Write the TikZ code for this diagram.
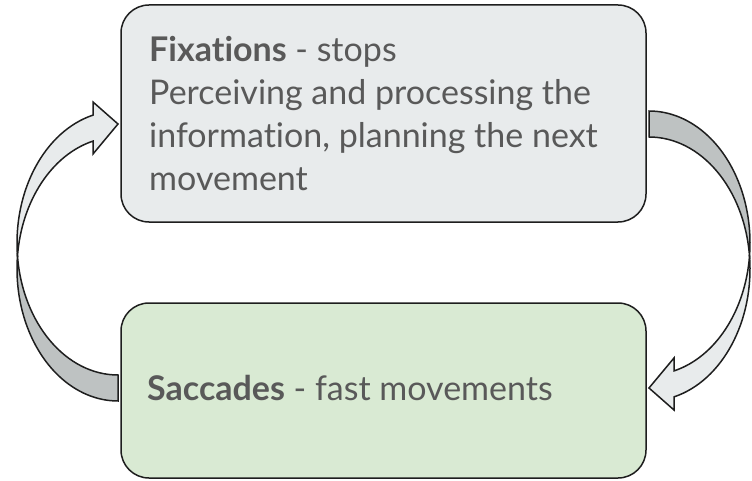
\documentclass[tikz,border=0pt]{standalone}
\usepackage{fontspec}
\setmainfont{Lato}[Ligatures=NoCommon]
\definecolor{edgecol}{HTML}{1E1E1E}
\definecolor{txtcol}{HTML}{595959}
\definecolor{greyfill}{HTML}{E8EBEC}
\definecolor{greenfill}{HTML}{D9EAD3}
\definecolor{backcol}{HTML}{BEC2C2}
\begin{document}
\begin{tikzpicture}[x=1pt,y=1pt,
  boxbase/.style={draw=edgecol, line width=1.5pt, rounded corners=28pt,
    minimum width=525pt, inner sep=0pt},
  fixbox/.style={boxbase, fill=greyfill, minimum height=217pt},
  sacbox/.style={boxbase, fill=greenfill, minimum height=175pt},
  lbl/.style={text=txtcol, font=\fontsize{34}{42.7}\selectfont, inner sep=0pt,
    align=left, anchor=base west},
  bandfront/.style={fill=greyfill, draw=edgecol, line width=1.5pt, line join=miter},
  bandback/.style={fill=backcol, draw=edgecol, line width=1.5pt, line join=miter},
  erad/.style={x radius=101, y radius=132}]
\useasboundingbox (0,0) rectangle (752,480);

% curved block arrow: twisted band whose back face (tail) is darker
\newcommand{\curvedband}{%
  \path[bandback] (17.5,224) arc[start angle=174.35, end angle=270, erad]
    -- (118,105) arc[start angle=270, end angle=185.65, erad] -- cycle;
  \path[bandfront] (17.5,224) arc[start angle=185.65, end angle=104.33, erad]
    -- (93,378) -- (118,356) -- (93,326) -- (93,338.9)
    arc[start angle=104.33, end angle=174.35, erad] -- cycle;}

% left arrow: saccades -> fixations
\curvedband
% right arrow: fixations -> saccades (same shape turned half a turn)
\begin{scope}[rotate around={180:(383.5,224)}]
  \curvedband
\end{scope}

% the two states
\node[fixbox] (fix) at (383.5,366.5) {};
\node[sacbox] (sac) at (383.5,89.5) {};

% multi-line text: base anchor sits on the last line
\node[lbl] (fixtxt) at (149,289.9) {\textbf{Fixations} - stops\\Perceiving and processing the\\information, planning the next\\movement};
\node[lbl] (sactxt) at (147,80) {\textbf{Saccades} - fast movements};
\end{tikzpicture}
\end{document}
